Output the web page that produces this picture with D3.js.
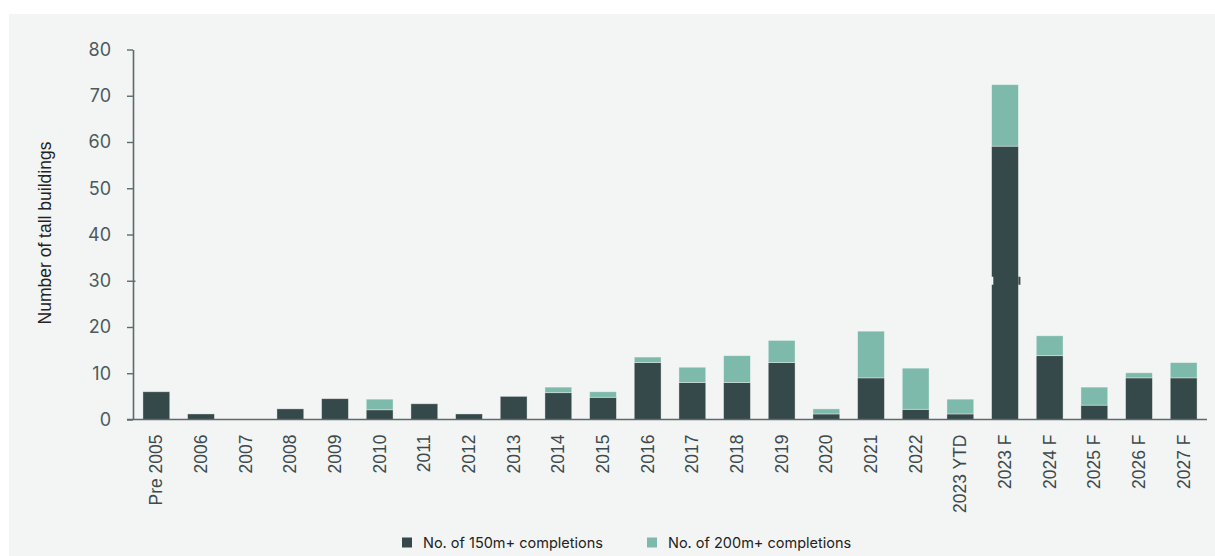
<!DOCTYPE html>
<html>
<head>
<meta charset="utf-8">
<script src="https://cdn.jsdelivr.net/npm/d3@7"></script>
<style>
  html, body { margin: 0; padding: 0; background: #ffffff; }
  svg { display: block; }
</style>
</head>
<body>
<svg id="chart" width="1215" height="556"></svg>
<script>
// Categories along the x axis
const categories = ["Pre 2005", "2006", "2007", "2008", "2009", "2010", "2011", "2012", "2013",
  "2014", "2015", "2016", "2017", "2018", "2019", "2020", "2021", "2022", "2023 YTD",
  "2023 F", "2024 F", "2025 F", "2026 F", "2027 F"];

// Lower (dark) segment: 150m+ completions
const completions150 = [6, 1.2, 0, 2.3, 4.5, 2.1, 3.4, 1.2, 5, 5.8, 4.8, 12.3, 8, 8, 12.3,
  1.2, 9, 2.2, 1.2, 59.1, 13.8, 3.1, 9, 9];

// Upper (green) segment: 200m+ completions
const completions200 = [0, 0, 0, 0, 0, 2.3, 0, 0, 0, 1.2, 1.2, 1.2, 3.3, 5.8, 4.8,
  1.1, 10.1, 8.9, 3.2, 13.3, 4.3, 3.9, 1.1, 3.3];

const yTicks = [0, 10, 20, 30, 40, 50, 60, 70, 80];
const seriesNames = ["No. of 150m+ completions", "No. of 200m+ completions"];

const colDark = "#36494a";
const colGreen = "#7dbaab";
const bg = "#f3f5f4";

const svg = d3.select("#chart");

// panel background
svg.append("rect").attr("x", 9).attr("y", 14).attr("width", 1206).attr("height", 542).attr("fill", bg);

const x = d3.scaleBand().domain(categories).range([134, 1206]).paddingInner(0.4).paddingOuter(0.2);
const y = d3.scaleLinear().domain([0, 80]).range([419.5, 49.5]);

const rows = categories.map((c, i) => ({ cat: c, s150: completions150[i], s200: completions200[i] }));
const stack = d3.stack().keys(["s150", "s200"]);
const layers = stack(rows);
const colors = [colDark, colGreen];

const g = svg.append("g");
layers.forEach((layer, li) => {
  g.selectAll(null).data(layer.filter(d => d[1] - d[0] > 0)).enter().append("rect")
    .attr("x", d => x(d.data.cat))
    .attr("width", x.bandwidth())
    .attr("y", d => y(d[1]))
    .attr("height", d => y(d[0]) - y(d[1]))
    .attr("fill", colors[li])
    .attr("stroke", "rgba(255,255,255,0.45)")
    .attr("stroke-width", 0.8);
});

// break mark on the tallest bar at 30
const tallest = categories[d3.maxIndex(rows, d => d.s150 + d.s200)];
const bx = x(tallest), by = y(30);
svg.append("rect").attr("x", bx - 0.5).attr("y", by - 4).attr("width", 2.2).attr("height", 8).attr("fill", bg);
svg.append("rect").attr("x", bx + x.bandwidth()).attr("y", by - 4).attr("width", 2).attr("height", 8).attr("fill", colDark);

// y axis
const yAxis = d3.axisLeft(y).tickValues(yTicks).tickSize(6).tickPadding(16).tickSizeOuter(0);
const ya = svg.append("g").attr("transform", "translate(133,0)").call(yAxis);
ya.select(".domain").attr("stroke", "#5b6a6b").attr("stroke-width", 1.6);
ya.selectAll(".tick line").attr("stroke", "#5b6a6b").attr("stroke-width", 1.4);
ya.selectAll(".tick text").attr("fill", "#4b5a5c").attr("font-family", "Inter, 'DejaVu Sans', sans-serif")
  .attr("font-size", 18);
// small extension of the tick at the axis break
ya.selectAll(".tick").filter(d => d === 30).append("line")
  .attr("x1", 0).attr("x2", 2.5).attr("stroke", "#5b6a6b").attr("stroke-width", 1.4);

// x axis
const xAxis = d3.axisBottom(x).tickSize(0).tickPadding(15).tickSizeOuter(0);
const xa = svg.append("g").attr("transform", "translate(0,419.5)").call(xAxis);
xa.select(".domain").attr("d", "M127,0H1207").attr("stroke", "#5b6a6b").attr("stroke-width", 1.6);
xa.selectAll(".tick text")
  .attr("font-family", "'Liberation Sans', Arial, sans-serif")
  .attr("font-size", 17.5)
  .attr("fill", "#3c4a4c")
  .attr("text-anchor", "end")
  .attr("transform", "rotate(-90)")
  .attr("x", -15)
  .attr("y", 0)
  .attr("dy", "0.35em");

// y axis title
svg.append("text")
  .attr("transform", "translate(45,233) rotate(-90)")
  .attr("text-anchor", "middle")
  .attr("dy", "0.35em")
  .attr("font-family", "'Liberation Sans', Arial, sans-serif")
  .attr("font-size", 17.5)
  .attr("fill", "#222")
  .text("Number of tall buildings");

// legend
const legendX = [402, 647];
seriesNames.forEach((name, i) => {
  const lg = svg.append("g").attr("transform", `translate(${legendX[i]},542.5)`);
  lg.append("rect").attr("x", 0).attr("y", -5).attr("width", 10).attr("height", 10).attr("fill", colors[i]);
  lg.append("text").attr("x", 21).attr("dy", "0.35em")
    .attr("font-family", "Inter, 'DejaVu Sans', sans-serif")
    .attr("font-size", 14.5)
    .attr("fill", "#222")
    .text(name);
});
</script>
</body>
</html>
